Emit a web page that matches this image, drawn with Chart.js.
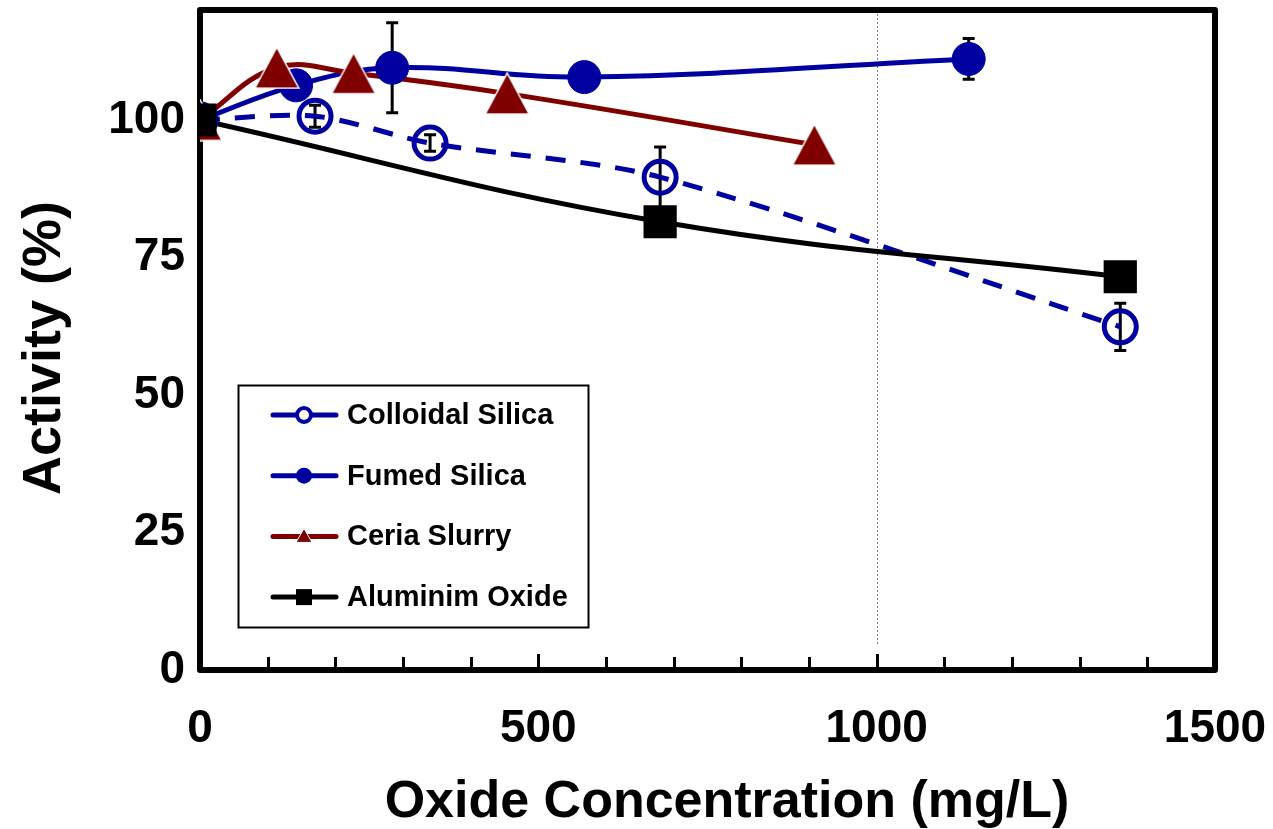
<!DOCTYPE html>
<html>
<head>
<meta charset="utf-8">
<script src="https://cdn.jsdelivr.net/npm/chart.js@4"></script>
<style>
  html, body { margin: 0; padding: 0; background: #ffffff; }
  #wrap { width: 1273px; height: 829px; position: relative; }
</style>
</head>
<body>
<div id="wrap"><canvas id="chart" width="1273" height="829"></canvas></div>
<script>
// Enzyme activity vs. oxide particle concentration
const colloidalX   = [0, 170, 340, 680, 1360];
const colloidalY   = [100, 100.7, 95.8, 89.6, 62.4];
const colloidalErr = [0, 2, 1.5, 5.5, 4.3];

const fumedX   = [0, 142, 284, 568, 1136];
const fumedY   = [100, 106.3, 109.5, 107.8, 111.1];
const fumedErr = [0, 0, 8.2, 0, 3.7];

const ceriaX = [0, 113.5, 227, 454, 908];
const ceriaY = [100, 109.5, 108.5, 104.8, 95.5];

const aluminaX = [0, 680, 1360];
const aluminaY = [100, 81.5, 71.5];

const xTickValues = [0, 500, 1000, 1500];
const yTickValues = [0, 25, 50, 75, 100];

const seriesNames = ['Colloidal Silica', 'Fumed Silica', 'Ceria Slurry', 'Aluminim Oxide'];

const BLUE = '#0000a0';
const RED = '#800000';
const BLACK = '#000000';
const FONT = '"Liberation Sans", Arial, Helvetica, sans-serif';

const pts = (xs, ys) => xs.map((v, i) => ({ x: v, y: ys[i] }));

// triangle marker centred on its bounding box
function triangleMarker(w, h, fill, edge, edgeWidth) {
  const c = document.createElement('canvas');
  c.width = w + 2; c.height = h + 2;
  const g = c.getContext('2d');
  g.beginPath();
  g.moveTo(c.width / 2, 1);
  g.lineTo(c.width - 1, c.height - 1);
  g.lineTo(1, c.height - 1);
  g.closePath();
  g.fillStyle = fill;
  g.fill();
  g.strokeStyle = edge;
  g.lineWidth = edgeWidth;
  g.stroke();
  return c;
}
const triBig = triangleMarker(44, 41, RED, '#ffffff', 1.5);

function lineSet(xs, ys, color, width, dash, tension, order) {
  return {
    data: pts(xs, ys), showLine: true, borderColor: color, borderWidth: width,
    borderDash: dash, tension: tension, pointRadius: 0, order: order, fill: false
  };
}
function markerSet(xs, ys, style, radius, bg, border, bw, order) {
  return {
    data: pts(xs, ys), showLine: false, pointStyle: style, pointRadius: radius,
    pointBackgroundColor: bg, pointBorderColor: border, pointBorderWidth: bw, order: order
  };
}

const datasets = [
  lineSet(colloidalX, colloidalY, BLUE, 5, [20, 15], 0.3, 13),
  lineSet(fumedX, fumedY, BLUE, 5, [], 0.4, 12),
  lineSet(ceriaX, ceriaY, RED, 5, [], 0.4, 11),
  lineSet(aluminaX, aluminaY, BLACK, 5, [], 0.4, 10),
  markerSet(colloidalX, colloidalY, 'circle', 16, 'rgba(0,0,0,0)', BLUE, 5, 3),
  markerSet(fumedX, fumedY, 'circle', 16.5, BLUE, BLUE, 1, 2),
  markerSet(ceriaX, ceriaY, triBig, 22, RED, RED, 0, 1),
  markerSet(aluminaX, aluminaY, 'rect', 23.5, BLACK, BLACK, 0, 0)
];

const decorations = {
  id: 'decorations',
  beforeDatasetsDraw(chart) {
    const { ctx, chartArea: a, scales: { x, y } } = chart;
    ctx.save();
    // thin dotted reference line at 1000 mg/L
    const gx = Math.round(x.getPixelForValue(1000)) + 0.5;
    ctx.strokeStyle = '#7a7a7a';
    ctx.lineWidth = 1;
    ctx.setLineDash([2, 2]);
    ctx.beginPath(); ctx.moveTo(gx, a.top); ctx.lineTo(gx, a.bottom - 25); ctx.stroke();
    ctx.setLineDash([]);
    // inward tick marks on the x axis
    ctx.strokeStyle = BLACK;
    ctx.lineWidth = 3;
    for (let v = 100; v < 1500; v += 100) {
      const px = Math.round(x.getPixelForValue(v)) + 0.5;
      const len = v % 500 === 0 ? 16 : 13;
      ctx.beginPath(); ctx.moveTo(px, a.bottom); ctx.lineTo(px, a.bottom - len); ctx.stroke();
    }
    // plot frame
    ctx.lineWidth = 6;
    ctx.lineJoin = 'round';
    ctx.strokeRect(a.left, a.top, a.right - a.left, a.bottom - a.top);
    // error bars
    ctx.lineWidth = 3;
    ctx.lineJoin = 'miter';
    const bars = [[colloidalX, colloidalY, colloidalErr], [fumedX, fumedY, fumedErr]];
    bars.forEach(([xs, ys, es]) => {
      xs.forEach((v, i) => {
        if (!es[i]) return;
        const px = x.getPixelForValue(v);
        const top = y.getPixelForValue(ys[i] + es[i]);
        const bot = y.getPixelForValue(ys[i] - es[i]);
        ctx.beginPath();
        ctx.moveTo(px, top); ctx.lineTo(px, bot);
        ctx.moveTo(px - 6, top); ctx.lineTo(px + 6, top);
        ctx.moveTo(px - 6, bot); ctx.lineTo(px + 6, bot);
        ctx.stroke();
      });
    });
    ctx.restore();
  },
  afterDraw(chart) {
    const { ctx } = chart;
    ctx.save();
    // axis titles
    ctx.fillStyle = BLACK;
    ctx.font = 'bold 52px ' + FONT;
    ctx.textAlign = 'center';
    ctx.textBaseline = 'alphabetic';
    ctx.fillText('Oxide Concentration (mg/L)', 727, 817);
    ctx.save();
    ctx.translate(60, 348);
    ctx.rotate(-Math.PI / 2);
    ctx.font = 'bold 54px ' + FONT;
    ctx.fillText('Activity (%)', 0, 0);
    ctx.restore();

    // legend box
    const bx = 238, by = 385, bw = 350, bh = 242;
    ctx.fillStyle = '#ffffff';
    ctx.fillRect(bx, by, bw, bh);
    ctx.strokeStyle = BLACK;
    ctx.lineWidth = 2;
    ctx.strokeRect(bx + 0.5, by + 0.5, bw, bh);

    const colors = [BLUE, BLUE, RED, BLACK];
    ctx.font = 'bold 29px ' + FONT;
    ctx.textAlign = 'left';
    ctx.textBaseline = 'middle';
    seriesNames.forEach((name, i) => {
      const ry = 415 + i * 60.7;
      ctx.strokeStyle = colors[i];
      ctx.lineWidth = 5;
      ctx.lineCap = 'round';
      ctx.beginPath(); ctx.moveTo(273, ry); ctx.lineTo(336, ry); ctx.stroke();
      ctx.lineCap = 'butt';
      const mx = 304;
      if (i === 0) {
        ctx.beginPath(); ctx.arc(mx, ry, 7, 0, Math.PI * 2);
        ctx.fillStyle = '#ffffff'; ctx.fill();
        ctx.lineWidth = 4; ctx.strokeStyle = BLUE; ctx.stroke();
      } else if (i === 1) {
        ctx.beginPath(); ctx.arc(mx, ry, 8, 0, Math.PI * 2);
        ctx.fillStyle = BLUE; ctx.fill();
      } else if (i === 2) {
        ctx.beginPath();
        ctx.moveTo(mx, ry - 8); ctx.lineTo(mx + 8, ry + 6); ctx.lineTo(mx - 8, ry + 6); ctx.closePath();
        ctx.fillStyle = RED; ctx.fill();
        ctx.lineWidth = 1; ctx.strokeStyle = '#ffffff'; ctx.stroke();
      } else {
        ctx.fillStyle = BLACK; ctx.fillRect(mx - 8, ry - 8, 16, 16);
      }
      ctx.fillStyle = BLACK;
      ctx.fillText(name, 347, ry + 1);
    });
    ctx.restore();
  }
};

new Chart(document.getElementById('chart'), {
  type: 'scatter',
  data: { datasets },
  options: {
    responsive: false,
    animation: false,
    events: [],
    layout: { autoPadding: false, padding: { top: 10, right: 58, left: 0, bottom: 0 } },
    plugins: { legend: { display: false }, tooltip: { enabled: false } },
    scales: {
      x: {
        type: 'linear', min: 0, max: 1500,
        afterBuildTicks: ax => { ax.ticks = xTickValues.map(v => ({ value: v })); },
        afterFit: ax => { ax.height = 159; ax.paddingLeft = 0; ax.paddingRight = 0; },
        grid: { display: false, drawTicks: false },
        border: { display: false },
        ticks: {
          color: BLACK, padding: 32, maxRotation: 0, autoSkip: false,
          callback: v => String(v),
          font: { family: FONT, size: 46, weight: 'bold' }
        }
      },
      y: {
        type: 'linear', min: 0, max: 120,
        afterBuildTicks: ax => { ax.ticks = yTickValues.map(v => ({ value: v })); },
        afterFit: ax => { ax.width = 200; ax.paddingTop = 0; ax.paddingBottom = 0; },
        grid: { display: false, drawTicks: false },
        border: { display: false },
        ticks: {
          color: BLACK, padding: 15,
          callback: v => String(v),
          font: { family: FONT, size: 46, weight: 'bold' }
        }
      }
    }
  },
  plugins: [decorations]
});
</script>
</body>
</html>
